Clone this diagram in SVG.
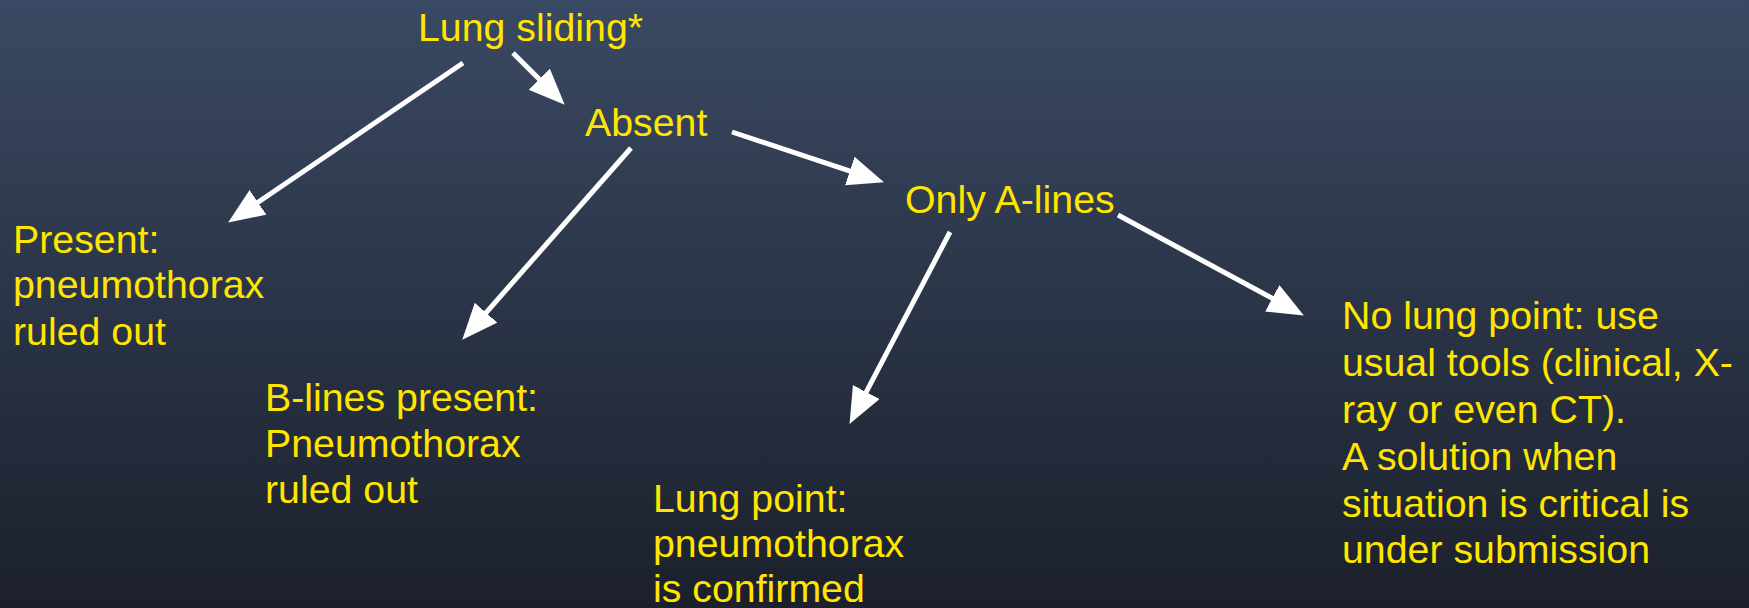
<svg xmlns="http://www.w3.org/2000/svg" width="1749" height="608" viewBox="0 0 1749 608">
<defs>
<linearGradient id="bg" x1="0" y1="0" x2="0" y2="1">
<stop offset="0" stop-color="#3a4963"/>
<stop offset="1" stop-color="#1b202b"/>
</linearGradient>
<marker id="ah" markerUnits="userSpaceOnUse" markerWidth="38" markerHeight="32" refX="21" refY="15" orient="auto" viewBox="0 0 38 32">
<path d="M0,0 L36,15 L0,30 z" fill="#ffffff"/>
</marker>
<style>
.t{font-family:"Liberation Sans",Arial,sans-serif;font-size:39.3px;fill:#ffe500}
.c line{stroke:#ffffff;stroke-width:5;marker-end:url(#ah)}
</style>
</defs>
<rect x="0" y="0" width="1749" height="608" fill="url(#bg)"/>
<g class="c" id="connectors">
<line x1="463" y1="63" x2="240.6" y2="214.1"/>
<line x1="513" y1="53" x2="554.1" y2="94.1"/>
<line x1="631" y1="148" x2="472.2" y2="328.5"/>
<line x1="732" y1="132" x2="869.7" y2="177.6"/>
<line x1="950" y1="232" x2="856.5" y2="410.6"/>
<line x1="1118" y1="215" x2="1290.7" y2="308.3"/>
</g>
<g id="lung-sliding"><text class="t" x="418" y="41">Lung sliding*</text></g>
<g id="absent"><text class="t" x="585" y="136">Absent</text></g>
<g id="present"><text class="t" x="13" y="253">Present:</text><text class="t" x="13" y="298">pneumothorax</text><text class="t" x="13" y="345">ruled out</text></g>
<g id="b-lines"><text class="t" x="265" y="411">B-lines present:</text><text class="t" x="265" y="457">Pneumothorax</text><text class="t" x="265" y="503">ruled out</text></g>
<g id="only-a-lines"><text class="t" x="905" y="213">Only A-lines</text></g>
<g id="lung-point"><text class="t" x="653" y="512">Lung point:</text><text class="t" x="653" y="557">pneumothorax</text><text class="t" x="653" y="602">is confirmed</text></g>
<g id="no-lung-point"><text class="t" x="1342" y="329">No lung point: use</text><text class="t" x="1342" y="376">usual tools (clinical, X-</text><text class="t" x="1342" y="423">ray or even CT).</text><text class="t" x="1342" y="470">A solution when</text><text class="t" x="1342" y="517">situation is critical is</text><text class="t" x="1342" y="563">under submission</text></g>
</svg>
